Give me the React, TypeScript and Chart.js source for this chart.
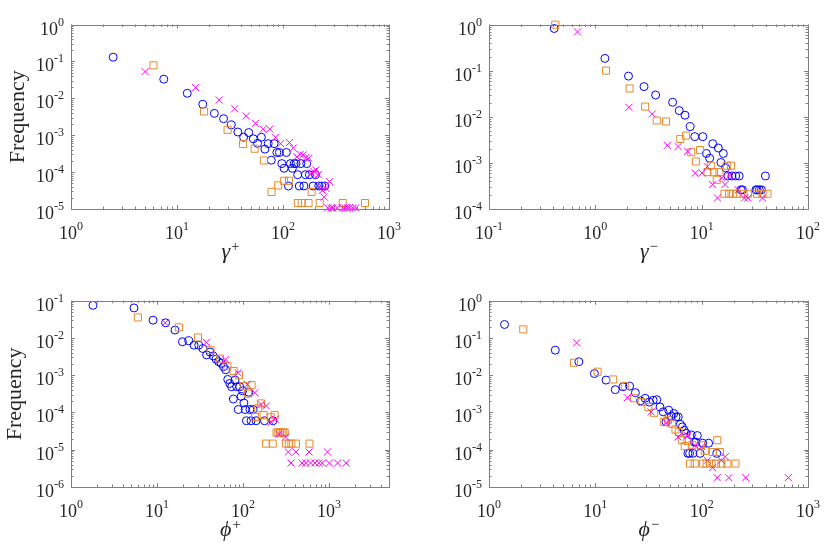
import React, { useEffect, useRef } from "react";
import Chart from "chart.js/auto";

// ---- gamma+ panel ----
const gpCircleX = [2.5, 7.5, 12.5, 17.5, 22.5, 27.5, 32.5, 37.5, 42.5, 47.5, 52.5, 57.5, 62.5, 67.5, 72.5, 77.5, 82.5, 87.5, 92.5, 97.5, 102.5, 107.5, 112.5, 117.5, 122.5, 127.5, 132.5, 137.5, 142.5, 147.5, 157.5, 162.5, 167.5, 177.5, 192.5, 202.5, 217.5, 232.5, 247.5];
const gpCircleY = [0.13, 0.033, 0.0137, 0.0069, 0.0039, 0.0028, 0.0019, 0.00122, 0.00088, 0.00118, 0.0008, 0.0006, 0.00088, 0.00042, 0.00059, 0.00021, 0.00059, 0.00034, 0.00034, 0.00017, 0.000127, 0.00034, 0.000042, 0.00017, 0.000127, 0.00017, 0.00017, 0.000085, 0.000042, 0.00017, 0.000042, 0.000085, 0.00017, 0.000085, 0.000042, 0.000085, 0.000042, 0.000042, 0.000042];
const gpSquareX = [6, 18, 30, 42, 54, 66, 78, 90, 102, 114, 138, 150, 174, 186, 222, 366, 594];
const gpSquareY = [0.078, 0.0044, 0.0014, 0.00058, 0.00043, 0.000206, 0.000029, 0.0000436, 0.0000582, 0.0000582, 0.0000145, 0.0000145, 0.0000145, 0.000029, 0.0000145, 0.0000145, 0.0000145];
const gpCrossX = [5, 15, 25, 35, 45, 55, 65, 75, 85, 95, 115, 125, 135, 145, 155, 165, 175, 185, 195, 205, 215, 225, 235, 245, 255, 275, 265, 285, 295, 325, 365, 385, 405, 425, 455, 485];
const gpCrossY = [0.053, 0.0195, 0.009, 0.0052, 0.0033, 0.0021, 0.00145, 0.00147, 0.00088, 0.00059, 0.00063, 0.00045, 0.00026, 0.0003, 0.00029, 0.00025, 0.00024, 0.000094, 0.000105, 0.000115, 0.000085, 0.000043, 0.000032, 0.000021, 0.000036, 0.000055, 0.0000107, 0.0000107, 0.0000107, 0.0000107, 0.0000107, 0.0000107, 0.0000107, 0.0000107, 0.0000107, 0.0000107];
const gpXTicks = [1, 10, 100, 1000];
const gpYTicks = [1e-5, 1e-4, 1e-3, 1e-2, 1e-1, 1];

// ---- gamma- panel ----
const gmCircleX = [0.41, 1.23, 2.05, 2.87, 3.69, 5.33, 6.15, 6.97, 7.79, 8.61, 10.25, 11.07, 11.89, 12.71, 14.35, 15.17, 15.99, 16.81, 17.63, 19.27, 20.91, 22.55, 23.37, 24.19, 32.39, 33.21, 34.85, 36.49, 39.77];
const gmCircleY = [0.82, 0.184, 0.076, 0.045, 0.0296, 0.0206, 0.0136, 0.0108, 0.0061, 0.0037, 0.0037, 0.0016, 0.00126, 0.0026, 0.0021, 0.00102, 0.0016, 0.00078, 0.00052, 0.00052, 0.00052, 0.00052, 0.00026, 0.00026, 0.00026, 0.00026, 0.00026, 0.00026, 0.00052];
const gmSquareX = [0.42, 1.26, 2.1, 2.94, 3.78, 4.62, 6.3, 7.14, 7.98, 8.82, 9.66, 11.34, 12.18, 13.02, 13.86, 14.7, 16.38, 17.22, 18.06, 18.9, 19.74, 21.42, 24.78, 27.3, 33.18, 37.38, 41.58];
const gmSquareY = [0.99, 0.1, 0.041, 0.0166, 0.0083, 0.0079, 0.0033, 0.0039, 0.0017, 0.00107, 0.0019, 0.00063, 0.00087, 0.00063, 0.00043, 0.00063, 0.000214, 0.00087, 0.000214, 0.00087, 0.000214, 0.000214, 0.000214, 0.000214, 0.000214, 0.000214, 0.000214];
const gmCrossX = [0.68, 2.07, 3.43, 4.75, 6.0, 7.4, 8.7, 10.1, 11.3, 12.7, 14.1, 15.4, 16.6, 18.3, 22.1, 25.2, 27.2, 37.4];
const gmCrossY = [0.69, 0.016, 0.0115, 0.0024, 0.00226, 0.00177, 0.0006, 0.0006, 0.00083, 0.00034, 0.000173, 0.00047, 0.00034, 0.00054, 0.00026, 0.000173, 0.000173, 0.000173];
const gmXTicks = [0.1, 1, 10, 100];
const gmYTicks = [1e-4, 1e-3, 1e-2, 1e-1, 1];

// ---- phi+ panel ----
const fpCircleX = [1.8, 5.4, 9, 12.6, 16.2, 19.8, 23.4, 27, 30.6, 34.2, 37.8, 41.4, 45, 48.6, 52.2, 55.8, 59.4, 63, 66.6, 70.2, 73.8, 77.4, 81, 84.6, 88.2, 91.8, 95.4, 99, 102.6, 106.2, 109.8, 117, 120.6, 124.2, 131.4, 142.2, 178.2, 223.2];
const fpCircleY = [0.075, 0.064, 0.03, 0.0255, 0.0163, 0.0079, 0.0084, 0.0064, 0.0064, 0.0052, 0.0035, 0.0042, 0.0033, 0.0027, 0.0023, 0.0021, 0.0017, 0.0014, 0.00077, 0.0006, 0.00049, 0.00023, 0.00074, 0.00049, 0.00012, 0.00049, 0.00027, 0.00038, 0.00018, 0.00012, 0.00006, 0.00035, 0.00012, 0.00006, 0.00012, 0.00006, 0.00006, 0.00006];
const fpSquareX = [6, 18, 30, 42, 54, 66, 78, 90, 102, 114, 126, 138, 150, 162, 174, 186, 210, 222, 234, 246, 258, 270, 282, 294, 306, 318, 342, 366, 414, 594];
const fpSquareY = [0.0356, 0.0192, 0.0103, 0.0047, 0.0028, 0.00175, 0.0013, 0.001, 0.00051, 0.00032, 0.00054, 0.000076, 0.00013, 0.000175, 0.000085, 0.0000146, 0.000074, 0.0000146, 0.000085, 0.000029, 0.000029, 0.000029, 0.000029, 0.000029, 0.000029, 0.0000146, 0.0000146, 0.0000146, 0.0000146, 0.0000146];
const fpCrossX = [12.5, 37.5, 62.5, 87.5, 112.5, 137.5, 162.5, 187.5, 212.5, 237.5, 262.5, 312.5, 337.5, 412.5, 587.5, 962.5, 362.5, 487.5, 537.5, 612.5, 687.5, 762.5, 837.5, 1012.5, 1262.5, 1587.5];
const fpCrossY = [0.0255, 0.0076, 0.0026, 0.00117, 0.00057, 0.00034, 0.000165, 0.00015, 0.000055, 0.000066, 0.000026, 0.000022, 0.0000087, 0.0000087, 0.0000087, 0.0000087, 0.0000044, 0.0000044, 0.0000044, 0.0000044, 0.0000044, 0.0000044, 0.0000044, 0.0000044, 0.0000044, 0.0000044];
const fpXTicks = [1, 10, 100, 1000];
const fpYTicks = [1e-6, 1e-5, 1e-4, 1e-3, 1e-2, 1e-1];

// ---- phi- panel ----
const fmCircleX = [1.4, 4.2, 7, 9.8, 12.6, 15.4, 18.2, 21, 23.8, 26.6, 29.4, 32.2, 35, 37.8, 40.6, 43.4, 46.2, 49, 51.8, 54.6, 57.4, 60.2, 63, 65.8, 68.6, 71.4, 74.2, 77, 79.8, 82.6, 85.4, 88.2, 91, 96.6, 102.2, 116.2, 138.6];
const fmCircleY = [0.23, 0.047, 0.023, 0.0111, 0.0074, 0.0041, 0.0049, 0.0051, 0.0034, 0.00206, 0.0024, 0.0019, 0.00213, 0.0022, 0.0014, 0.00104, 0.00056, 0.00115, 0.0008, 0.00094, 0.00076, 0.00076, 0.00048, 0.00041, 0.00033, 0.000275, 0.00008, 0.00008, 0.00025, 0.00008, 0.00016, 0.00016, 0.00024, 0.00008, 0.00015, 0.00015, 0.00008];
const fmSquareX = [2.1, 6.3, 10.5, 14.7, 18.9, 23.1, 27.3, 31.5, 35.7, 44.1, 48.3, 52.5, 56.7, 60.9, 65.1, 69.3, 73.5, 77.7, 81.9, 86.1, 98.7, 102.9, 107.1, 111.3, 123.9, 127.5, 136.5, 140.1, 148.5, 153.3, 174.3, 207.9];
const fmSquareY = [0.17, 0.0216, 0.0124, 0.0077, 0.0051, 0.0024, 0.0019, 0.0014, 0.00098, 0.00056, 0.00062, 0.0005, 0.00035, 0.0003, 0.00018, 0.000125, 0.000173, 0.0000425, 0.000132, 0.0000425, 0.000132, 0.0000425, 0.000093, 0.0000425, 0.0000425, 0.000087, 0.0000425, 0.00018, 0.000087, 0.0000425, 0.0000425, 0.0000425];
const fmCrossX = [6.67, 20, 33.33, 46.67, 60, 73.33, 86.67, 100, 113.33, 126.67, 140, 153.33, 166.67, 180, 260, 653.33];
const fmCrossY = [0.074, 0.0025, 0.00104, 0.00053, 0.00022, 0.00024, 0.00013, 0.00012, 0.000052, 0.000033, 0.0000178, 0.000052, 0.000065, 0.0000178, 0.0000178, 0.0000178];
const fmXTicks = [1, 10, 100, 1000];
const fmYTicks = [1e-5, 1e-4, 1e-3, 1e-2, 1e-1, 1];

const FONT = "'Liberation Serif', 'DejaVu Serif', serif";
const INK = "#262626";
const AXIS = "#808080";
const BLUE = "#0000ff";
const ORANGE = "#e8892a";
const MAGENTA = "#ff00ff";

type Panel = {
  left: number; top: number; w: number; h: number;
  padTop: number; padRight: number; yW: number; xH: number;
  xMin: number; xMax: number; yMin: number; yMax: number;
  xTicks: number[]; yTicks: number[];
  sym: string; sign: string; yTitle: boolean; yTitleX: number;
  series: [number[], number[]][];
};

const panels: Panel[] = [
  { left: 0, top: 0, w: 415, h: 278, padTop: 24.5, padRight: 26, yW: 71, xH: 69,
    xMin: 1, xMax: 1000, yMin: 1e-5, yMax: 1, xTicks: gpXTicks, yTicks: gpYTicks,
    sym: "γ", sign: "+", yTitle: true, yTitleX: 24,
    series: [[gpCircleX, gpCircleY], [gpSquareX, gpSquareY], [gpCrossX, gpCrossY]] },
  { left: 415, top: 0, w: 416, h: 278, padTop: 24.5, padRight: 23, yW: 74, xH: 69,
    xMin: 0.1, xMax: 100, yMin: 1e-4, yMax: 1, xTicks: gmXTicks, yTicks: gmYTicks,
    sym: "γ", sign: "−", yTitle: false, yTitleX: 0,
    series: [[gmCircleX, gmCircleY], [gmSquareX, gmSquareY], [gmCrossX, gmCrossY]] },
  { left: 0, top: 278, w: 415, h: 279, padTop: 22.7, padRight: 26, yW: 71, xH: 70,
    xMin: 1, xMax: 5000, yMin: 1e-6, yMax: 0.1, xTicks: fpXTicks, yTicks: fpYTicks,
    sym: "ϕ", sign: "+", yTitle: true, yTitleX: 21,
    series: [[fpCircleX, fpCircleY], [fpSquareX, fpSquareY], [fpCrossX, fpCrossY]] },
  { left: 415, top: 278, w: 416, h: 279, padTop: 22.7, padRight: 23, yW: 74, xH: 70,
    xMin: 1, xMax: 1000, yMin: 1e-5, yMax: 1, xTicks: fmXTicks, yTicks: fmYTicks,
    sym: "ϕ", sign: "−", yTitle: false, yTitleX: 0,
    series: [[fmCircleX, fmCircleY], [fmSquareX, fmSquareY], [fmCrossX, fmCrossY]] },
];

// all 1..9 x 10^n positions inside the axis range
function logTicks(min: number, max: number) {
  const out: { v: number; major: boolean }[] = [];
  for (let e = Math.floor(Math.log10(min)); e <= Math.ceil(Math.log10(max)); e++) {
    for (let m = 1; m <= 9; m++) {
      const v = m * Math.pow(10, e);
      if (v >= min * 0.999999 && v <= max * 1.000001) out.push({ v, major: m === 1 });
    }
  }
  return out;
}

const crisp = (v: number) => Math.round(v) + 0.5;

function makeFrame(p: Panel) {
  return {
    id: "frame",
    afterDraw(chart: any) {
      const { ctx, chartArea } = chart;
      const { left, right, top, bottom } = chartArea;
      const xs = chart.scales.x;
      const ys = chart.scales.y;
      ctx.save();
      ctx.strokeStyle = AXIS;
      ctx.lineWidth = 1;
      ctx.strokeRect(crisp(left), crisp(top), Math.round(right) - Math.round(left), Math.round(bottom) - Math.round(top));
      ctx.beginPath();
      for (const t of logTicks(p.xMin, p.xMax)) {
        const px = crisp(xs.getPixelForValue(t.v));
        const len = t.major ? 4 : 2.5;
        ctx.moveTo(px, bottom); ctx.lineTo(px, bottom - len);
        ctx.moveTo(px, top); ctx.lineTo(px, top + len);
      }
      for (const t of logTicks(p.yMin, p.yMax)) {
        const py = crisp(ys.getPixelForValue(t.v));
        const len = t.major ? 4 : 2.5;
        ctx.moveTo(left, py); ctx.lineTo(left + len, py);
        ctx.moveTo(right, py); ctx.lineTo(right - len, py);
      }
      ctx.stroke();

      ctx.fillStyle = INK;
      ctx.textAlign = "left";
      ctx.textBaseline = "alphabetic";
      const baseFont = `18px ${FONT}`;
      const expFont = `12px ${FONT}`;
      const measure = (s: string, f: string) => { ctx.font = f; return ctx.measureText(s).width; };
      const expText = (v: number) => { const e = Math.round(Math.log10(v)); return e < 0 ? "-" + (-e) : String(e); };

      for (const v of p.xTicks) {
        const px = xs.getPixelForValue(v);
        const ex = expText(v);
        const wb = measure("10", baseFont);
        const we = measure(ex, expFont);
        const x0 = px - (wb + we) / 2;
        ctx.font = baseFont; ctx.fillText("10", x0, bottom + 30);
        ctx.font = expFont; ctx.fillText(ex, x0 + wb, bottom + 21);
      }
      for (const v of p.yTicks) {
        const py = ys.getPixelForValue(v);
        const ex = expText(v);
        const wb = measure("10", baseFont);
        const we = measure(ex, expFont);
        const x0 = left - 7 - wb - we;
        ctx.font = baseFont; ctx.fillText("10", x0, py + 10);
        ctx.font = expFont; ctx.fillText(ex, x0 + wb, py + 1);
      }

      // x-axis title: symbol with superscript sign
      const symFont = `italic 22px ${FONT}`;
      const signFont = `15px ${FONT}`;
      const ws = measure(p.sym, symFont);
      const wg = measure(p.sign, signFont);
      const cx = (left + right) / 2 - (ws + wg) / 2;
      ctx.font = symFont; ctx.fillText(p.sym, cx, bottom + 49);
      ctx.font = signFont; ctx.fillText(p.sign, cx + ws + 1, bottom + 42);

      if (p.yTitle) {
        ctx.translate(p.yTitleX, (top + bottom) / 2);
        ctx.rotate(-Math.PI / 2);
        ctx.font = `22px ${FONT}`;
        ctx.textAlign = "center";
        ctx.fillText("Frequency", 0, 0);
      }
      ctx.restore();
    },
  };
}

function dataset(xs: number[], ys: number[], style: string, color: string, radius: number, order: number) {
  return {
    data: xs.map((x, i) => ({ x, y: ys[i] })),
    pointStyle: style,
    pointRadius: radius,
    pointHoverRadius: radius,
    pointBorderColor: color,
    pointBackgroundColor: "rgba(0,0,0,0)",
    pointBorderWidth: 1,
    borderColor: color,
    backgroundColor: "rgba(0,0,0,0)",
    showLine: false,
    clip: false as const,
    order,
  };
}

function buildConfig(p: Panel): any {
  const [c, s, x] = p.series;
  return {
    type: "scatter",
    data: {
      datasets: [
        dataset(c[0], c[1], "circle", BLUE, 4, 3),
        dataset(s[0], s[1], "rect", ORANGE, 5, 2),
        dataset(x[0], x[1], "crossRot", MAGENTA, 5, 1),
      ],
    },
    options: {
      responsive: false,
      animation: false,
      events: [],
      layout: { padding: { top: p.padTop, right: p.padRight, left: 0, bottom: 0 } },
      plugins: { legend: { display: false }, tooltip: { enabled: false } },
      scales: {
        x: {
          type: "logarithmic", min: p.xMin, max: p.xMax,
          ticks: { display: false }, grid: { display: false }, border: { display: false },
          afterFit: (sc: any) => { sc.height = p.xH; },
        },
        y: {
          type: "logarithmic", position: "left", min: p.yMin, max: p.yMax,
          ticks: { display: false }, grid: { display: false }, border: { display: false },
          afterFit: (sc: any) => { sc.width = p.yW; },
        },
      },
    },
    plugins: [makeFrame(p)],
  };
}

const App: React.FC = () => {
  const canvases = useRef<(HTMLCanvasElement | null)[]>([]);

  useEffect(() => {
    const charts = panels.map((p, i) => {
      const el = canvases.current[i];
      return el ? new Chart(el, buildConfig(p)) : null;
    });
    return () => {
      charts.forEach((ch) => ch && ch.destroy());
    };
  }, []);

  return (
    <div style={{ position: "absolute", left: 0, top: 0, width: 831, height: 557, background: "#fff" }}>
      {panels.map((p, i) => (
        <canvas
          key={i}
          ref={(el) => { canvases.current[i] = el; }}
          width={p.w}
          height={p.h}
          style={{ position: "absolute", left: p.left, top: p.top, width: p.w, height: p.h }}
        />
      ))}
    </div>
  );
};

export default App;
